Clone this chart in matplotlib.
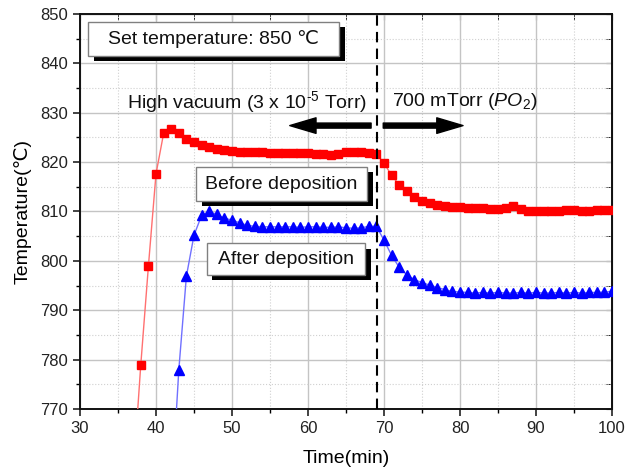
import matplotlib
matplotlib.use("Agg")
import matplotlib.pyplot as plt
from matplotlib.patches import Rectangle
from matplotlib.ticker import MultipleLocator

plt.rcParams['font.family'] = ['Liberation Sans', 'DejaVu Sans']
plt.rcParams['mathtext.fontset'] = 'custom'
plt.rcParams['mathtext.rm'] = 'Liberation Sans'
plt.rcParams['mathtext.it'] = 'Liberation Sans:italic'

# ---- data ----
before_time = list(range(37, 101))
before_temp = [756.5, 779.0, 798.9, 817.6, 825.8, 826.8, 825.9, 824.7, 824.0, 823.4,
               823.1, 822.7, 822.4, 822.2, 822.1, 822.0, 822.0, 822.0, 821.9, 821.9,
               821.9, 821.8, 821.8, 821.8, 821.7, 821.6, 821.4, 821.6, 822.0, 822.1,
               822.0, 821.9, 821.7, 819.8, 817.3, 815.4, 814.1, 813.0, 812.2, 811.7,
               811.3, 811.1, 811.0, 810.9, 810.8, 810.8, 810.7, 810.6, 810.6, 810.7,
               811.1, 810.5, 810.2, 810.0, 810.1, 810.1, 810.2, 810.3, 810.4, 810.2,
               810.2, 810.3, 810.4, 810.4]

after_time = list(range(42, 101))
after_temp = [751.6, 777.9, 796.9, 805.2, 809.2, 810.0, 809.4, 808.6, 808.3, 807.7,
              807.2, 807.0, 806.9, 806.9, 806.9, 806.9, 806.9, 806.8, 806.9, 806.9,
              806.8, 806.8, 806.9, 806.7, 806.6, 806.7, 807.0, 807.0, 804.2, 801.1,
              798.7, 797.2, 796.2, 795.6, 795.1, 794.6, 794.2, 793.8, 793.7, 793.6,
              793.5, 793.6, 793.5, 793.6, 793.5, 793.5, 793.6, 793.5, 793.6, 793.5,
              793.5, 793.6, 793.5, 793.6, 793.5, 793.6, 793.6, 793.7, 793.8]

switch_time = 69.1
x_ticks = [30, 40, 50, 60, 70, 80, 90, 100]
y_ticks = [770, 780, 790, 800, 810, 820, 830, 840, 850]

# ---- figure ----
fig = plt.figure(figsize=(6.27, 4.73), dpi=100)
ax = fig.add_axes([80/627, 1-409/473, 532/627, 395/473])

ax.set_xlim(30, 100)
ax.set_ylim(770, 850)
ax.set_xticks(x_ticks)
ax.set_yticks(y_ticks)
ax.xaxis.set_minor_locator(MultipleLocator(5))
ax.yaxis.set_minor_locator(MultipleLocator(5))
ax.grid(True, which='major', color='#c4c4c4', lw=1.0, ls='-')
ax.grid(True, which='minor', color='#d0d0d0', lw=0.8, ls=':')
ax.set_axisbelow(True)

ax.tick_params(axis='both', which='major', direction='out', length=5, width=1.2,
               labelsize=12, colors='#222222')
ax.tick_params(axis='both', which='minor', direction='out', length=3, width=1.0)
for s in ax.spines.values():
    s.set_linewidth(1.4)
    s.set_color('#111111')

# mirrored inward ticks on top / right
axt = ax.secondary_xaxis('top')
axt.set_xticks(x_ticks)
axt.xaxis.set_minor_locator(MultipleLocator(5))
axt.tick_params(which='both', direction='in', length=4, labeltop=False)
axr = ax.secondary_yaxis('right')
axr.set_yticks(y_ticks)
axr.yaxis.set_minor_locator(MultipleLocator(5))
axr.tick_params(which='both', direction='in', length=4, labelright=False)

ax.plot(before_time, before_temp, color='#ff7070', lw=1.0, marker='s', ms=6,
        mfc='#ff0000', mec='#ff0000', zorder=3)
ax.plot(after_time, after_temp, color='#7070ff', lw=1.0, marker='^', ms=7.5,
        mfc='#0000ff', mec='#0000ff', zorder=3)

ax.axvline(switch_time, color='k', lw=1.5, ls=(0, (5, 3)), zorder=4)

# ---- shadowed boxes with text ----
def shadow_box(x0, y0, x1, y1, text, off=(0.011, 0.013)):
    ax.add_patch(Rectangle((x0 + off[0], y0 - off[1]), x1 - x0, y1 - y0,
                           transform=ax.transAxes, facecolor='black',
                           edgecolor='none', zorder=5))
    ax.add_patch(Rectangle((x0, y0), x1 - x0, y1 - y0, transform=ax.transAxes,
                           facecolor='white', edgecolor='#808080', lw=1.0, zorder=6))
    ax.text((x0 + x1) / 2, (y0 + y1) / 2, text, transform=ax.transAxes,
            ha='center', va='center', fontsize=14, color='#111111', zorder=7)

shadow_box(0.015, 0.894, 0.487, 0.980, 'Set temperature: 850 ℃')
shadow_box(0.218, 0.527, 0.539, 0.612, 'Before deposition')
shadow_box(0.238, 0.339, 0.536, 0.419, 'After deposition')

ax.text(67.8, 832.2, 'High vacuum (3 x 10$^{\\text{-5}}$ Torr)', ha='right', va='center',
        fontsize=14, color='#111111', zorder=7)
ax.text(71.0, 832.2, '700 mTorr ($\\mathit{PO}_2$)', ha='left', va='center',
        fontsize=14, color='#111111', zorder=7)

arrow_style = 'simple,head_length=1.35,head_width=0.8,tail_width=0.26'
ax.annotate('', xy=(57.6, 827.4), xytext=(68.3, 827.4),
            arrowprops=dict(arrowstyle=arrow_style, mutation_scale=14, color='k',
                            shrinkA=0, shrinkB=0), zorder=7)
ax.annotate('', xy=(80.4, 827.4), xytext=(69.9, 827.4),
            arrowprops=dict(arrowstyle=arrow_style, mutation_scale=14, color='k',
                            shrinkA=0, shrinkB=0), zorder=7)

ax.set_xlabel('Time(min)', fontsize=14, labelpad=10)
ax.set_ylabel('Temperature(℃)', fontsize=14, labelpad=6)

fig.savefig('out.png', dpi=100)
